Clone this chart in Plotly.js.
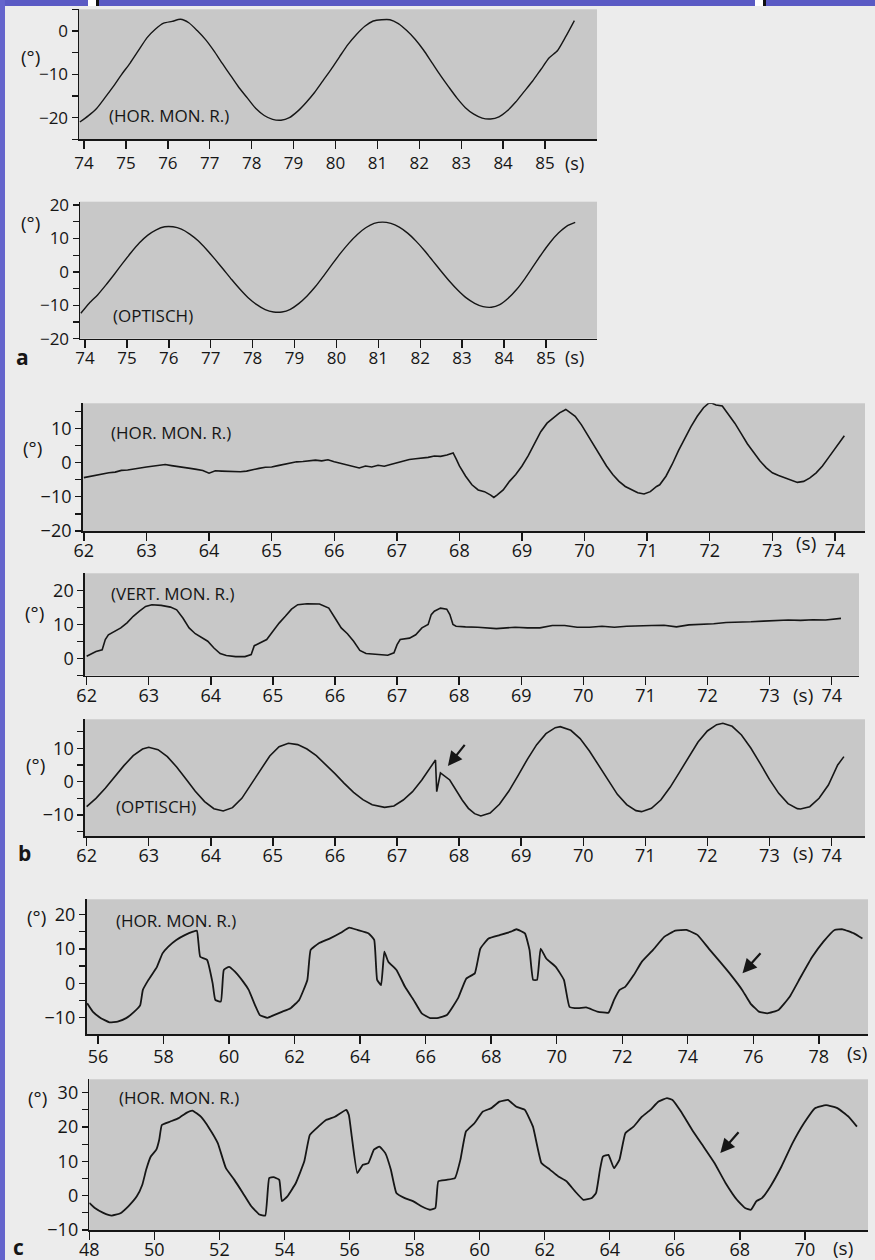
<!DOCTYPE html>
<html><head><meta charset="utf-8">
<script src="https://cdn.plot.ly/plotly-3.0.1.min.js"></script>
<style>html,body{margin:0;padding:0;background:#ececec;}#chart{width:875px;height:1260px;}</style>
</head><body><div id="chart"></div>
<script>
// ---------- DATA ----------
// Panel a (top): HOR. MON. R. and (bottom): OPTISCH, time in s, angle in degrees
const aTime = [73.9,74.1,74.3,74.5,74.7,74.9,75.1,75.3,75.5,75.7,75.9,76.1,76.3,76.5,76.7,76.9,77.1,77.3,77.5,77.7,77.9,78.1,78.3,78.5,78.7,78.9,79.1,79.3,79.5,79.7,79.9,80.1,80.3,80.5,80.7,80.9,81.1,81.3,81.5,81.7,81.9,82.1,82.3,82.5,82.7,82.9,83.1,83.3,83.5,83.7,83.9,84.1,84.3,84.5,84.7,84.9,85.1,85.3,85.5,85.7];
const aHorDeg = [-21.0,-19.6,-17.9,-15.4,-12.8,-10.0,-7.4,-4.5,-1.6,0.4,1.8,2.2,2.7,1.9,0.1,-2.0,-4.6,-7.5,-10.3,-13.1,-15.5,-17.9,-19.5,-20.4,-20.6,-20.0,-18.5,-16.5,-14.2,-11.5,-8.8,-5.9,-3.1,-0.8,1.1,2.3,2.6,2.6,1.7,0.1,-1.9,-4.4,-7.3,-10.2,-12.9,-15.5,-17.7,-19.2,-20.1,-20.3,-19.8,-18.4,-16.4,-14.0,-11.6,-8.9,-6.2,-4.5,-1.2,2.4];
const aOptDeg = [-12.4,-9.4,-6.9,-3.9,-0.7,2.6,5.8,8.7,11.0,12.6,13.5,13.5,12.8,11.3,9.3,6.7,3.8,0.8,-2.3,-5.2,-7.8,-9.8,-11.3,-12.0,-12.0,-11.2,-9.5,-7.2,-4.4,-1.1,2.3,5.6,8.6,11.2,13.2,14.5,14.9,14.5,13.4,11.6,9.2,6.4,3.3,0.2,-2.8,-5.5,-7.8,-9.4,-10.4,-10.6,-9.8,-7.9,-5.3,-2.0,1.7,5.4,8.8,11.6,13.7,14.8];

// Panel b: HOR. MON. R.
const bHorTime = [62.0,62.1,62.2,62.3,62.4,62.5,62.6,62.7,62.8,62.9,63.0,63.1,63.2,63.3,63.4,63.5,63.6,63.7,63.8,63.9,64.0,64.1,64.2,64.3,64.4,64.5,64.6,64.7,64.8,64.9,65.0,65.1,65.2,65.3,65.4,65.5,65.6,65.7,65.8,65.9,66.0,66.1,66.2,66.3,66.4,66.5,66.6,66.7,66.8,66.9,67.0,67.1,67.2,67.3,67.4,67.5,67.6,67.7,67.8,67.9,
 67.95,68.0,68.1,68.2,68.3,68.4,68.5,68.55,68.6,68.7,68.8,68.9,69.0,69.1,69.2,69.3,69.4,69.5,69.6,69.7,69.75,69.85,69.95,70.05,70.15,70.25,70.35,70.45,70.55,70.65,70.75,70.85,70.95,71.05,71.15,71.2,71.3,71.4,71.5,71.6,71.7,71.8,71.9,72.0,72.1,72.2,72.3,72.4,72.5,72.6,72.7,72.8,72.9,73.0,73.1,73.2,73.3,73.4,73.5,73.6,73.7,73.8,73.9,74.0,74.15];
const bHorDeg = [-4.4,-4.0,-3.7,-3.4,-3.0,-2.8,-2.3,-2.2,-1.8,-1.6,-1.3,-1.0,-0.7,-0.6,-0.9,-1.1,-1.5,-1.7,-2.0,-2.3,-3.1,-2.4,-2.5,-2.6,-2.8,-2.7,-2.5,-2.0,-1.7,-1.4,-1.3,-0.9,-0.5,-0.2,0.2,0.3,0.5,0.7,0.5,0.8,0.2,-0.3,-0.7,-1.2,-1.6,-1.0,-1.3,-0.8,-1.1,-0.6,-0.1,0.6,0.9,1.1,1.2,1.5,1.9,1.8,2.2,2.8,
 1.0,-1.0,-4.0,-6.5,-8.0,-8.5,-9.5,-10.2,-9.5,-8.0,-5.5,-3.5,-1.0,2.0,5.5,9.0,11.5,13.0,14.5,15.5,14.8,13.5,11.0,8.0,5.0,2.0,-1.0,-3.5,-5.5,-7.0,-8.0,-8.8,-9.2,-8.5,-7.0,-6.5,-4.0,-0.5,3.5,7.0,10.5,13.5,16.0,17.6,16.8,16.5,14.0,11.5,8.5,5.5,3.0,0.5,-1.5,-3.0,-3.8,-4.5,-5.2,-5.8,-5.5,-4.5,-3.0,-1.0,1.5,4.0,7.8];

// Panel b: VERT. MON. R.
const bVertTime = [62.0,62.05,62.15,62.25,62.3,62.35,62.45,62.55,62.65,62.75,62.85,62.95,63.05,63.2,63.35,63.45,63.55,63.65,63.75,63.85,63.95,64.05,64.15,64.25,64.4,64.55,64.65,64.7,64.8,64.9,65.0,65.1,65.2,65.3,65.4,65.55,65.75,65.9,66.0,66.1,66.2,66.3,66.4,66.5,66.7,66.85,66.95,67.0,67.05,67.2,67.3,67.4,67.5,67.55,67.6,67.7,67.8,67.85,67.9,67.95,68.1,68.3,68.6,68.9,69.1,69.3,69.5,69.7,69.9,70.1,70.3,70.5,70.7,70.9,71.1,71.3,71.5,71.7,71.9,72.1,72.3,72.5,72.7,72.9,73.1,73.3,73.5,73.7,73.9,74.15];
const bVertDeg = [0.7,1.2,2.1,2.6,5.6,7.0,7.9,9.0,10.5,12.4,13.9,15.3,15.8,15.6,15.1,14.3,11.9,9.0,7.3,6.3,5.1,3.1,1.5,0.9,0.6,0.6,1.2,3.8,4.6,5.6,8.0,10.4,12.4,14.5,15.8,16.1,16.0,14.8,11.9,9.0,7.3,5.1,2.4,1.5,1.2,1.0,1.7,4.1,5.6,6.0,7.0,9.0,10.0,12.9,13.9,14.8,14.5,12.9,10.0,9.5,9.3,9.2,8.8,9.2,9.0,9.0,9.7,9.7,9.2,9.2,9.5,9.2,9.5,9.5,9.7,9.8,9.3,9.9,10.0,10.2,10.6,10.6,10.8,11.0,11.2,11.3,11.2,11.4,11.3,11.8];

// Panel b: OPTISCH
const bOptTime = [62.0,62.15,62.3,62.45,62.6,62.75,62.9,63.0,63.15,63.3,63.45,63.6,63.75,63.9,64.05,64.2,64.35,64.5,64.65,64.8,64.95,65.1,65.25,65.4,65.55,65.7,65.85,66.0,66.15,66.3,66.45,66.6,66.8,66.95,67.1,67.25,67.4,67.55,67.62,67.64,67.7,67.85,67.95,68.05,68.15,68.25,68.35,68.5,68.65,68.8,68.95,69.1,69.25,69.4,69.55,69.63,69.8,69.95,70.1,70.25,70.4,70.55,70.7,70.85,70.94,71.1,71.25,71.4,71.55,71.7,71.85,72.0,72.15,72.25,72.4,72.55,72.7,72.85,73.0,73.15,73.3,73.45,73.5,73.65,73.8,73.95,74.1,74.2];
const bOptDeg = [-7.5,-5.0,-2.0,1.5,4.8,7.8,9.8,10.3,9.6,7.5,4.4,0.8,-2.9,-6.0,-8.1,-8.8,-7.8,-5.0,-0.9,3.6,7.7,10.5,11.5,11.1,9.8,7.8,5.2,2.4,-0.5,-3.2,-5.4,-6.9,-7.7,-7.3,-5.5,-3.0,0.5,4.5,6.5,-3.0,2.6,0.5,-2.5,-5.5,-8.0,-9.6,-10.3,-9.4,-6.8,-2.9,1.8,6.7,11.1,14.4,16.2,16.5,15.4,12.9,9.2,4.8,0.3,-3.8,-6.9,-8.7,-9.0,-8.0,-5.5,-1.7,2.8,7.5,11.9,15.2,17.1,17.5,16.6,14.0,10.1,5.5,0.7,-3.5,-6.6,-8.1,-8.2,-7.5,-5.0,-1.0,5.0,7.5];

// Panel c (top): HOR. MON. R.
const c1Time = [55.67,55.84,56.09,56.35,56.6,56.86,57.11,57.29,57.37,57.54,57.8,57.97,58.14,58.39,58.65,58.9,59.02,59.12,59.33,59.5,59.58,59.75,59.84,60.0,60.18,60.43,60.6,60.77,60.94,61.17,61.37,61.63,61.88,62.14,62.39,62.49,62.73,63.07,63.41,63.67,63.92,64.26,64.43,64.52,64.64,64.74,64.86,65.11,65.37,65.63,65.88,66.14,66.39,66.65,66.99,67.24,67.5,67.67,67.92,68.26,68.6,68.77,69.03,69.17,69.28,69.4,69.51,69.68,69.97,70.22,70.39,70.65,70.9,71.24,71.58,71.75,71.92,72.09,72.35,72.6,72.94,73.28,73.62,73.96,74.3,74.64,74.98,75.32,75.66,75.91,76.17,76.43,76.77,77.11,77.45,77.8,78.14,78.48,78.73,79.07,79.33];
const c1Deg = [-5.8,-8.2,-10.1,-11.3,-11.1,-10.1,-8.2,-6.3,-1.9,1.0,4.8,8.7,10.6,12.6,14.0,15.0,15.3,7.7,6.8,0.0,-4.8,-5.3,3.9,4.8,3.4,0.5,-1.9,-5.8,-9.2,-10.0,-9.2,-8.2,-7.2,-4.8,1.0,9.7,11.6,13.0,14.7,16.2,15.5,14.5,12.6,1.0,-0.5,9.2,6.3,3.9,-1.0,-4.8,-8.7,-10.1,-10.0,-9.2,-4.3,1.4,2.9,10.1,13.0,14.0,15.0,15.7,14.5,9.7,1.0,1.0,10.1,7.2,4.8,1.0,-6.8,-7.2,-7.0,-8.2,-8.5,-4.8,-1.9,-1.0,2.4,6.3,9.7,13.5,15.3,15.5,14.0,10.1,6.3,2.4,-1.9,-5.8,-8.2,-8.7,-7.7,-3.9,1.9,7.7,12.1,15.5,15.7,14.5,13.0];

// Panel c (bottom): HOR. MON. R.
const c2Time = [48.0,48.17,48.43,48.69,48.94,49.2,49.46,49.63,49.75,49.89,50.06,50.15,50.23,50.49,50.75,51.0,51.17,51.43,51.69,51.95,52.2,52.46,52.72,52.98,53.23,53.41,53.53,53.66,53.84,53.92,54.09,54.35,54.61,54.78,55.04,55.29,55.55,55.9,55.98,56.07,56.24,56.41,56.58,56.75,56.92,57.1,57.27,57.44,57.7,57.95,58.21,58.47,58.64,58.73,58.98,59.24,59.41,59.58,59.84,60.1,60.36,60.61,60.87,61.13,61.39,61.64,61.9,62.16,62.42,62.67,62.93,63.19,63.45,63.58,63.7,63.79,63.96,64.13,64.3,64.48,64.73,64.99,65.25,65.5,65.76,65.93,66.19,66.53,66.88,67.22,67.56,67.91,68.16,68.34,68.51,68.68,68.94,69.28,69.62,69.97,70.31,70.65,71.0,71.34,71.6];
const c2Deg = [-2.1,-3.6,-5.0,-5.8,-5.2,-3.1,-0.2,3.2,7.6,11.4,13.4,16.3,20.6,21.6,22.6,24.2,24.8,23.0,19.6,15.3,8.0,4.6,0.8,-3.1,-5.5,-5.8,5.1,5.4,4.6,-1.6,-0.2,3.7,10.0,17.7,20.1,22.1,23.0,25.0,23.5,17.2,6.6,9.0,9.5,13.4,14.3,12.4,7.6,0.8,-0.7,-1.6,-3.1,-4.1,-3.6,4.2,4.6,5.1,10.5,18.7,21.1,24.5,25.5,27.4,27.9,25.9,25.0,20.1,9.5,7.6,5.6,4.2,1.3,-1.2,-0.7,0.8,7.6,11.4,11.9,8.0,10.5,18.2,20.1,23.0,25.0,27.4,28.4,27.9,24.5,19.2,14.3,9.5,3.7,-1.2,-3.6,-4.1,-1.6,-0.7,2.7,8.5,15.3,21.1,25.5,26.4,25.5,23.0,20.1];

// Tick values / labels
const aXTicks = [74,75,76,77,78,79,80,81,82,83,84,85];
const bXTicks = [62,63,64,65,66,67,68,69,70,71,72,73,74];
const c1XTicks = [56,58,60,62,64,66,68,70,72,74,76,78];
const c2XTicks = [48,50,52,54,56,58,60,62,64,66,68,70];
const aHorYLabeled = [0,-10,-20],  aHorYMinor = [5,-5,-15,-25];
const aOptYLabeled = [20,10,0,-10,-20], aOptYMinor = [15,5,-5,-15];
const bHorYLabeled = [10,0,-10,-20], bHorYMinor = [15,5,-5,-15];
const bVertYLabeled = [20,10,0], bVertYMinor = [15,5,-5];
const bOptYLabeled = [10,0,-10], bOptYMinor = [15,5,-5,-15];
const c1YLabeled = [20,10,0,-10], c1YMinor = [15,5,-5];
const c2YLabeled = [30,20,10,0,-10], c2YMinor = [25,15,5,-5];
const panelNames = ['(HOR. MON. R.)','(OPTISCH)','(HOR. MON. R.)','(VERT. MON. R.)','(OPTISCH)','(HOR. MON. R.)','(HOR. MON. R.)'];
const panelLetters = ['a','b','c'];

// ---------- LAYOUT ----------
const W = 875, H = 1260;
const px = x => x / W, py = y => 1 - y / H;
const FONT = 'Open Sans, Noto Sans, sans-serif';
const INK = '#161616';

const panels = [
  {t:aTime, v:aHorDeg, box:[79,597,9.3,139.3], xr:[73.88,86.24], yr:[-25,5], xt:aXTicks, yl:aHorYLabeled, ym:aHorYMinor, fs:17, lw:1.4, smooth:0.6, so:0,
   name:[107,115], deg:[30,57], s:[574,163]},
  {t:aTime, v:aOptDeg, box:[80,597,201.7,338.7], xr:[73.88,86.22], yr:[-20,21], xt:aXTicks, yl:aOptYLabeled, ym:aOptYMinor, fs:17, lw:1.4, smooth:0.6, so:-5,
   name:[111,315], deg:[30,223], s:[574,357]},
  {t:bHorTime, v:bHorDeg, box:[82.6,865,403.3,531], xr:[61.98,74.48], yr:[-20,17.3], xt:bXTicks, yl:bHorYLabeled, ym:bHorYMinor, fs:18, lw:1.6, smooth:0, so:-5,
   name:[109,432], deg:[32,448], s:[806,543]},
  {t:bVertTime, v:bVertDeg, box:[84.8,859,573.3,675.7], xr:[61.97,74.44], yr:[-5,25], xt:bXTicks, yl:bVertYLabeled, ym:bVertYMinor, fs:18, lw:1.6, smooth:0, so:-5,
   name:[109,593], deg:[34,613], s:[803,695]},
  {t:bOptTime, v:bOptDeg, box:[84.8,865,719.3,836], xr:[61.97,74.54], yr:[-16.3,18.7], xt:bXTicks, yl:bOptYLabeled, ym:bOptYMinor, fs:18, lw:1.6, smooth:0, so:-5,
   name:[114,807], deg:[35,765], s:[803,853]},
  {t:c1Time, v:c1Deg, box:[86.5,868,899.3,1034], xr:[55.65,79.5], yr:[-14.7,24.4], xt:c1XTicks, yl:c1YLabeled, ym:c1YMinor, fs:18, lw:1.8, smooth:0.35, so:-2,
   name:[114,920], deg:[36,917], s:[857,1053]},
  {t:c2Time, v:c2Deg, box:[89.3,868,1079.3,1230], xr:[48.0,71.94], yr:[-10,33.9], xt:c2XTicks, yl:c2YLabeled, ym:c2YMinor, fs:18, lw:1.8, smooth:0.35, so:-5,
   name:[117,1097], deg:[37,1098], s:[843,1248]}
];

const fmt = v => (v < 0 ? '\u2212' + Math.abs(v) : String(v));
const traces = [], layout = {
  width: W, height: H, margin:{l:0,r:0,t:0,b:0}, showlegend:false,
  paper_bgcolor:'#ececec', plot_bgcolor:'#c8c8c8',
  font:{family:FONT, color:INK}, annotations:[], shapes:[]
};

panels.forEach((p, i) => {
  const k = i === 0 ? '' : String(i + 1);
  traces.push({x:p.t, y:p.v, xaxis:'x'+k, yaxis:'y'+k, mode:'lines', hoverinfo:'skip',
    line:{color:INK, width:p.lw, shape:p.smooth > 0 ? 'spline' : 'linear', smoothing:p.smooth || 1}});
  const yv = p.yl.concat(p.ym);
  const yt = p.yl.map(fmt).concat(p.ym.map(() => ''));
  layout['xaxis'+k] = {domain:[px(p.box[0]), px(p.box[1])], range:p.xr, anchor:'y'+k,
    showline:true, linecolor:INK, linewidth:1.5, ticks:'outside', ticklen:8, tickwidth:1.4, tickcolor:INK,
    tickmode:'array', tickvals:p.xt, ticktext:p.xt.map(String), showgrid:false, zeroline:false,
    ticklabelstandoff:p.so, tickfont:{family:FONT, size:p.fs, color:INK}, fixedrange:true};
  layout['yaxis'+k] = {domain:[py(p.box[3]), py(p.box[2])], range:p.yr, anchor:'x'+k,
    showline:true, linecolor:INK, linewidth:1.5, ticks:'outside', ticklen:6, tickwidth:1.3, tickcolor:INK,
    tickmode:'array', tickvals:yv, ticktext:yt, showgrid:false, zeroline:false,
    tickfont:{family:FONT, size:p.fs, color:INK}, fixedrange:true};
  layout.annotations.push({xref:'paper', yref:'paper', x:px(p.name[0]), y:py(p.name[1]), xanchor:'left', yanchor:'middle',
    text:panelNames[i], showarrow:false, font:{family:FONT, size:17, color:INK}});
  layout.annotations.push({xref:'paper', yref:'paper', x:px(p.deg[0]), y:py(p.deg[1]), xanchor:'center', yanchor:'middle',
    text:'(\u00b0)', showarrow:false, font:{family:FONT, size:19, color:INK}});
  layout.annotations.push({xref:'paper', yref:'paper', x:px(p.s[0]), y:py(p.s[1]), xanchor:'center', yanchor:'middle',
    text:'(s)', showarrow:false, font:{family:FONT, size:p.fs + 1, color:INK}});
});

// panel letters
[[22,357],[24,853],[18,1247]].forEach((pos, j) => {
  layout.annotations.push({xref:'paper', yref:'paper', x:px(pos[0]), y:py(pos[1]), xanchor:'center', yanchor:'middle',
    text:'<b>'+panelLetters[j]+'</b>', showarrow:false, font:{family:FONT, size:21, color:INK}});
});

// arrows (head -> tail in data coordinates)
[[5,67.82,4.7,68.11,11.5],[6,75.67,2.9,76.26,9.2],[7,67.4,12.4,68.0,18.9]].forEach(a => {
  layout.annotations.push({xref:'x'+a[0], yref:'y'+a[0], x:a[1], y:a[2], axref:'x'+a[0], ayref:'y'+a[0], ax:a[3], ay:a[4],
    text:'', showarrow:true, arrowhead:2, arrowsize:1.3, arrowwidth:2.2, arrowcolor:INK, standoff:0});
});

// slide frame (blue strips)
layout.shapes.push(
  {type:'rect', xref:'paper', yref:'paper', x0:0, x1:1, y0:py(6), y1:1, fillcolor:'#5a5ac4', line:{width:0}, layer:'above'},
  {type:'rect', xref:'paper', yref:'paper', x0:px(88), x1:px(96), y0:py(6), y1:1, fillcolor:'#ffffff', line:{width:0}, layer:'above'},
  {type:'rect', xref:'paper', yref:'paper', x0:px(96), x1:px(99), y0:py(6), y1:1, fillcolor:'#111111', line:{width:0}, layer:'above'},
  {type:'rect', xref:'paper', yref:'paper', x0:px(755), x1:px(763), y0:py(6), y1:1, fillcolor:'#ffffff', line:{width:0}, layer:'above'},
  {type:'rect', xref:'paper', yref:'paper', x0:px(763), x1:px(766), y0:py(6), y1:1, fillcolor:'#111111', line:{width:0}, layer:'above'},
  {type:'rect', xref:'paper', yref:'paper', x0:0, x1:px(5), y0:0, y1:1, fillcolor:'#6464cc', line:{width:0}, layer:'above'}
);

Plotly.newPlot('chart', traces, layout, {staticPlot:true, displayModeBar:false});
</script></body></html>
